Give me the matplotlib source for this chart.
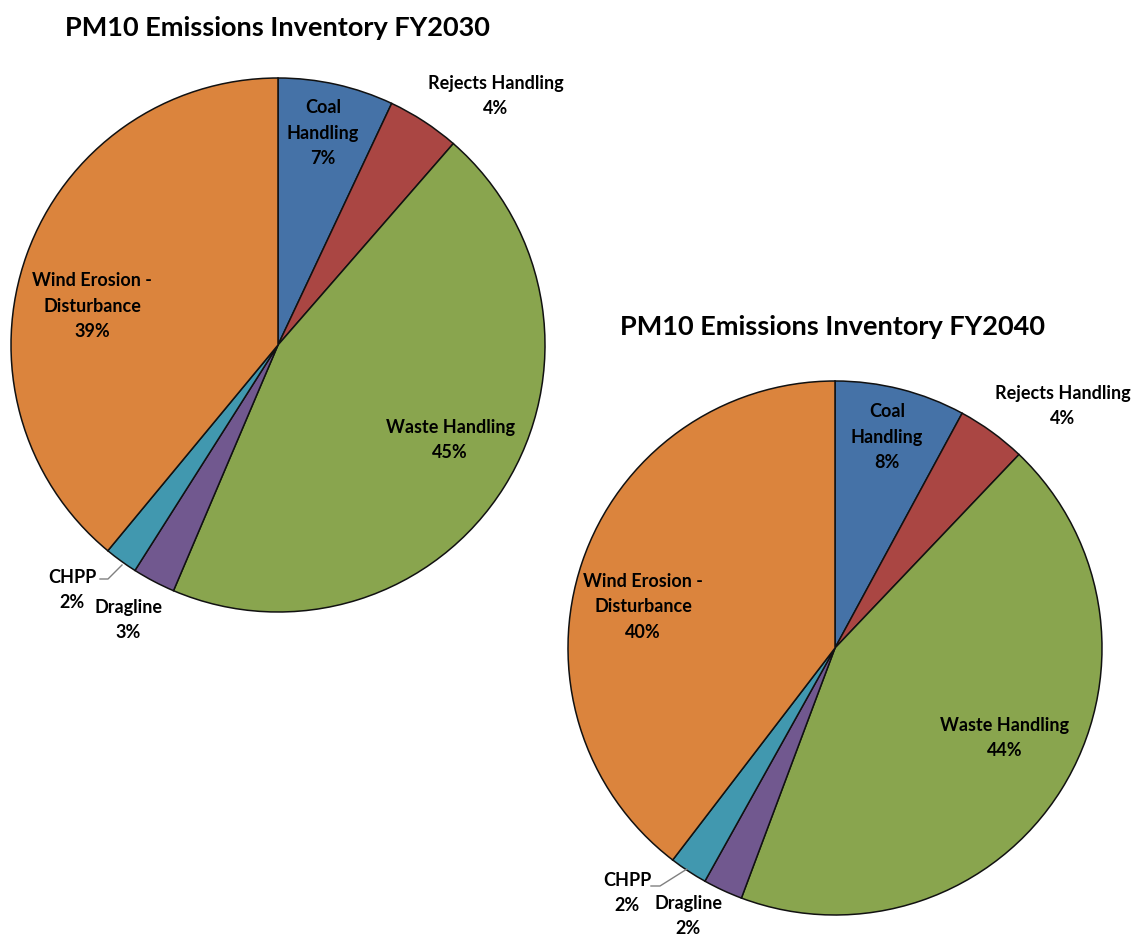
import matplotlib
matplotlib.use("Agg")
import matplotlib.pyplot as plt

categories = ["Coal Handling", "Rejects Handling", "Waste Handling", "Dragline", "CHPP", "Wind Erosion - Disturbance"]
values_2030 = [7.0, 4.4, 45.0, 2.6, 2.0, 39.0]
values_2040 = [7.9, 4.2, 43.6, 2.4, 2.3, 39.6]
titles = ["PM10 Emissions Inventory FY2030", "PM10 Emissions Inventory FY2040"]
colors = ["#4572A7", "#AA4643", "#89A54E", "#71588F", "#4198AF", "#DB843D"]
label_lines = ["Coal\nHandling", "Rejects Handling", "Waste Handling", "Dragline", "CHPP", "Wind Erosion -\nDisturbance"]

W, H = 1142, 938
fig = plt.figure(figsize=(W / 100, H / 100), dpi=100)
ax = fig.add_axes([0, 0, 1, 1])
ax.set_xlim(0, W)
ax.set_ylim(0, H)
ax.set_aspect("equal")
ax.axis("off")

FONT = "Lato"

def Y(py):
    return H - py

charts = [
    dict(values=values_2030, title=titles[0], center=(278, 345), r=267, title_xy=(277, 28),
         label_xy=[(323, 133), (496, 96), (450, 440), (128, 620), (72, 590), (92, 306)],
         leader=[(100, 579), (108, 579), (122, 565)]),
    dict(values=values_2040, title=titles[1], center=(835, 648), r=267, title_xy=(832, 327),
         label_xy=[(887, 437), (1063, 406), (1005, 738), (688, 916), (627, 893), (643, 607)],
         leader=[(651, 886), (660, 886), (687, 869)]),
]

for ch in charts:
    cx, cy = ch["center"]
    ax.pie(ch["values"], colors=colors, startangle=90, counterclock=False,
           center=(cx, Y(cy)), radius=ch["r"], frame=True,
           wedgeprops=dict(edgecolor="#111111", linewidth=1.1))
    tx, ty = ch["title_xy"]
    ax.text(tx, Y(ty), ch["title"], ha="center", va="center", fontsize=19.5,
            fontweight="bold", family=FONT, color="black")
    for name, v, (lx, ly) in zip(label_lines, ch["values"], ch["label_xy"]):
        ax.text(lx, Y(ly), f"{name}\n{v:.0f}%", ha="center", va="center",
                fontsize=13, fontweight="bold", family=FONT, color="black",
                linespacing=1.6)
    xs = [p[0] for p in ch["leader"]]
    ys = [Y(p[1]) for p in ch["leader"]]
    ax.plot(xs, ys, color="#808080", linewidth=1.0)

ax.set_xlim(0, W)
ax.set_ylim(0, H)
ax.axis("off")
fig.savefig("out.png", dpi=100, facecolor="white")
